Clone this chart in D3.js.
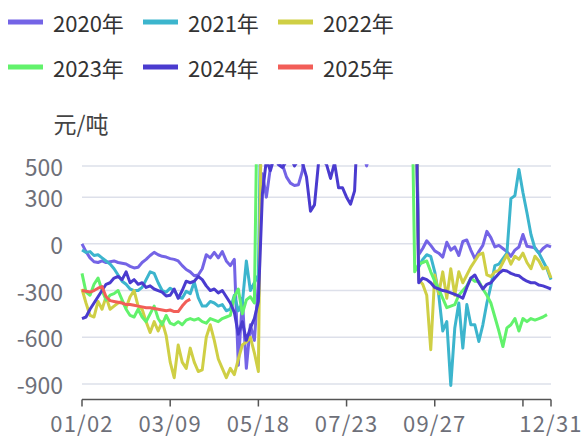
<!DOCTYPE html>
<html><head><meta charset="utf-8">
<script src="https://cdn.jsdelivr.net/npm/d3@7"></script>
<style>
body{margin:0;background:#fff;}
svg{display:block;font-family:"Noto Sans CJK SC","Noto Sans",sans-serif;}
</style>
</head><body>
<svg id="chart" width="582" height="439"></svg>
<script>
const categories = [
"01/02","01/05","01/08","01/11","01/14","01/17","01/20","01/23","01/26","01/29","02/01","02/04","02/07","02/10","02/13","02/16","02/19","02/22","02/25","02/28","03/03","03/06","03/09",
"03/12","03/15","03/18","03/21","03/24","03/27","03/30","04/02","04/05","04/08","04/11","04/14","04/17","04/20","04/23","04/26","04/29","05/06","05/09","05/12","05/15","05/18",
"05/21","05/24","05/27","05/30","06/02","06/05","06/08","06/11","06/14","06/17","06/20","06/23","06/26","06/29","07/02","07/05","07/08","07/11","07/14","07/17","07/20","07/23",
"07/26","07/29","08/01","08/04","08/07","08/10","08/13","08/16","08/19","08/22","08/25","08/28","08/31","09/03","09/06","09/09","09/12","09/15","09/18","09/21","09/24","09/27",
"10/08","10/11","10/14","10/17","10/20","10/23","10/26","10/29","11/01","11/04","11/07","11/10","11/13","11/16","11/19","11/22","11/25","11/28","12/01","12/04","12/07","12/10","12/13","12/16","12/19","12/22","12/25","12/28","12/31"];
const tickCats = ["01/02","03/09","05/18","07/23","09/27","12/10","12/31"];
const tickLabels = ["01/02","03/09","05/18","07/23","09/27","12/31"];
const yTicks = [500,300,0,-300,-600,-900];
const seriesNames = ["2020年","2021年","2022年","2023年","2024年","2025年"];
const seriesColors = ["#7464e6","#3cb5cd","#cfcf45","#62f26c","#4a3bcf","#f25e58"];

const s2020 = [
0,-50,-90,-115,-120,-110,-120,-115,-110,-120,
-125,-130,-145,-155,-150,-120,-100,-75,-55,-70,
-80,-85,-95,-100,-110,-140,-165,-180,-205,-200,
-160,-70,-90,-55,-90,-50,-110,-140,-100,-780,
-350,-800,-520,-620,-250,450,300,490,560,520,
510,430,390,375,380,470,700,820,900,950,
1000,1050,980,900,860,800,760,720,700,650,
600,500,600,700,800,900,1000,1100,1200,1300,
1400,1500,1500,1500,-70,-30,20,-10,-45,-60,
-85,10,-40,-20,-75,15,25,-40,-95,-50,
-10,80,40,-20,-10,-30,-50,-80,-40,-20,
60,-15,-20,-25,-60,-30,-10,-20];
const s2021 = [
-40,-55,-50,-75,-70,-90,-110,-130,-160,-200,
-240,-260,-290,-300,-300,-280,-230,-180,-190,-250,
-300,-310,-285,-300,-340,-350,-305,-320,-245,-345,
-400,-400,-370,-380,-400,-390,-430,-420,-330,-430,
-380,-110,-300,-250,-200,1500,1500,1500,1500,1500,
1500,1500,1500,1500,1500,1500,1500,1500,1500,1500,
1500,1500,1500,1500,1500,1500,1500,1500,1500,1500,
1500,1500,1500,1500,1500,1500,1500,1500,1500,1500,
1500,1500,1500,1500,-150,-100,-70,-80,-180,-330,
-560,-500,-910,-540,-380,-670,-390,-520,-520,-627,
-520,-380,-270,-140,-130,-95,-60,290,310,478,
330,200,60,-30,-60,-110,-160,-230];
const s2022 = [
-290,-380,-460,-470,-370,-420,-340,-420,-400,-380,
-370,-410,-340,-300,-400,-420,-500,-570,-500,-560,
-500,-590,-760,-860,-650,-760,-800,-670,-760,-820,
-810,-600,-520,-620,-740,-800,-860,-800,-840,-740,
-650,-630,-600,-700,-820,1500,1500,1500,1500,1500,
1500,1500,1500,1500,1500,1500,1500,1500,1500,1500,
1500,1500,1500,1500,1500,1500,1500,1500,1500,1500,
1500,1500,1500,1500,1500,1500,1500,1500,1500,1500,
1500,1500,1500,1500,-230,-260,-330,-680,-200,-320,
-180,-350,-160,-330,-180,-250,-200,-150,-110,-70,
-60,-200,-210,-180,-170,-120,-70,-130,-80,-100,
-60,-120,-160,-80,-110,-160,-150,-220];
const s2023 = [
-190,-310,-330,-260,-220,-300,-360,-330,-320,-300,
-360,-420,-460,-470,-420,-470,-500,-450,-400,-480,
-520,-460,-510,-520,-500,-520,-490,-480,-490,-480,
-500,-510,-480,-490,-500,-480,-470,-460,-340,-290,
-450,-360,-340,-380,1500,1500,1500,1500,1500,1500,
1500,1500,1500,1500,1500,1500,1500,1500,1500,1500,
1500,1500,1500,1500,1500,1500,1500,1500,1500,1500,
1500,1500,1500,1500,1500,1500,1500,1500,1500,1500,
1500,1500,1500,-180,-130,-120,-110,-180,-240,-290,
-350,-410,-400,-390,-330,-300,-270,-220,-240,-240,
-290,-330,-380,-470,-560,-660,-540,-520,-480,-560,
-480,-500,-480,-490,-480,-470,-455];
const s2024 = [
-480,-470,-420,-380,-340,-300,-260,-250,-220,-210,
-230,-180,-250,-230,-260,-250,-280,-270,-290,-300,
-310,-335,-330,-290,-350,-300,-240,-250,-240,-210,
-230,-270,-300,-290,-315,-300,-340,-380,-440,-580,
-500,-620,-540,-480,-370,320,540,470,560,510,
490,530,560,500,540,520,430,210,250,520,
540,510,420,520,360,360,300,255,340,900,
1000,1100,1200,1300,1400,1500,1500,1500,1500,1500,
1500,1500,1500,1500,-250,-220,-230,-250,-280,-290,
-300,-305,-315,-325,-335,-350,-280,-220,-200,-250,
-290,-260,-250,-220,-190,-170,-175,-190,-200,-205,
-225,-240,-250,-250,-265,-270,-280,-290];
const s2025 = [
-300,-305,-310,-300,-285,-275,-340,-365,-370,-375,
-380,-390,-390,-395,-400,-405,-410,-410,-415,-420,
-425,-430,-425,-435,-435,-400,-370,-355];

const seriesData = [s2020,s2021,s2022,s2023,s2024,s2025];

const svg = d3.select("#chart");
const plotLeft = 82, plotRight = 551, plotTop = 166, plotBottom = 399.5;

const x = d3.scalePoint().domain(categories).range([plotLeft, plotRight]);
const y = d3.scaleLinear().domain([-1000, 500]).range([plotBottom, plotTop]);

// grid lines
svg.append("g").selectAll("line").data(yTicks).join("line")
  .attr("x1", plotLeft).attr("x2", plotRight)
  .attr("y1", d => y(d)).attr("y2", d => y(d))
  .attr("stroke", "#dde0ea").attr("stroke-width", 1.5);

// y labels
svg.append("g").selectAll("text").data(yTicks).join("text")
  .attr("x", 63).attr("y", d => y(d))
  .attr("text-anchor", "end").attr("dominant-baseline", "central")
  .attr("fill", "#6e7079").attr("font-size", 23)
  .text(d => d);

// y axis name
svg.append("text").attr("x", 81).attr("y", 123)
  .attr("text-anchor", "middle").attr("dominant-baseline", "central")
  .attr("fill", "#444").attr("font-size", 23).text("元/吨");

// x axis
const xAxis = svg.append("g");
xAxis.append("line").attr("x1", plotLeft).attr("x2", plotRight)
  .attr("y1", plotBottom).attr("y2", plotBottom)
  .attr("stroke", "#555").attr("stroke-width", 1.5);
xAxis.selectAll("line.tick").data(tickCats).join("line").attr("class","tick")
  .attr("x1", d => x(d)).attr("x2", d => x(d))
  .attr("y1", plotBottom).attr("y2", plotBottom + 7)
  .attr("stroke", "#555").attr("stroke-width", 1.5);
xAxis.selectAll("text").data(tickLabels).join("text")
  .attr("x", d => x(d)).attr("y", 432)
  .attr("text-anchor", "middle")
  .attr("fill", "#6e7079").attr("font-size", 22).attr("letter-spacing", 1.2)
  .text(d => d);

// clip
svg.append("defs").append("clipPath").attr("id", "plotClip")
  .append("rect").attr("x", plotLeft - 3).attr("y", plotTop - 1.8)
  .attr("width", plotRight - plotLeft + 6).attr("height", plotBottom - plotTop + 4);

const line = d3.line()
  .defined(d => d != null)
  .x((d, i) => x(categories[i]))
  .y(d => y(d));

const plot = svg.append("g").attr("clip-path", "url(#plotClip)");
seriesData.forEach((data, k) => {
  plot.append("path").datum(data)
    .attr("d", line)
    .attr("fill", "none")
    .attr("stroke", seriesColors[k])
    .attr("stroke-width", 3)
    .attr("stroke-linejoin", "round");
});

// legend
const legendPos = [[8,22],[143,22],[278,22],[8,67],[143,67],[278,67]];
const lg = svg.append("g");
seriesNames.forEach((name, k) => {
  const [lx, ly] = legendPos[k];
  lg.append("rect").attr("x", lx).attr("y", ly - 2.5).attr("width", 35).attr("height", 5)
    .attr("fill", seriesColors[k]);
  lg.append("text").attr("x", lx + 45).attr("y", ly)
    .attr("dominant-baseline", "central").attr("fill", "#333").attr("font-size", 22)
    .text(name);
});
</script>
</body></html>
